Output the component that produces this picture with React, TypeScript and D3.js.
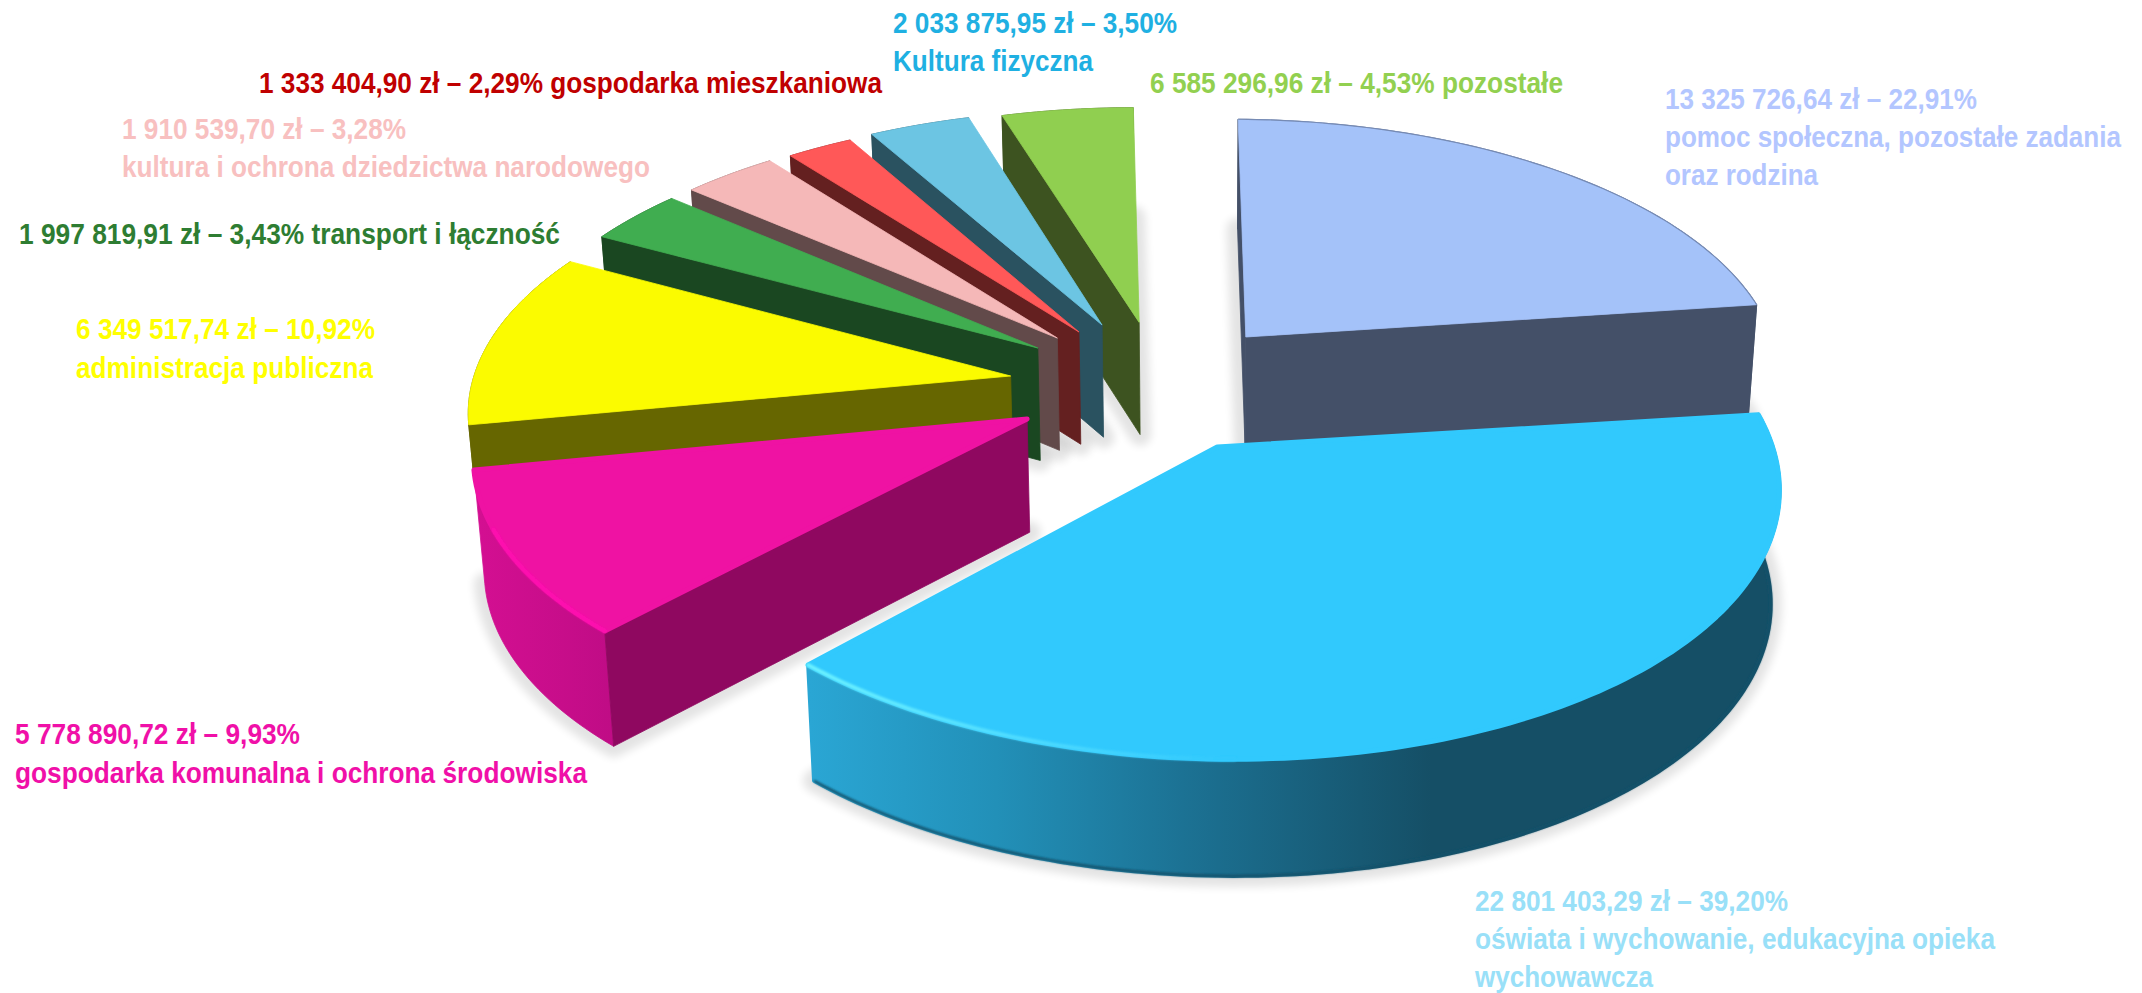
import React from "react";
import * as d3 from "d3";

// ---- data (clockwise from 12 o'clock) ----
const categories = [
  "pomoc społeczna", "oświata", "gospodarka komunalna", "administracja publiczna",
  "transport i łączność", "kultura i ochrona", "gospodarka mieszkaniowa", "kultura fizyczna", "pozostałe",
];
const percents = [22.91, 39.2, 9.93, 10.92, 3.43, 3.28, 2.29, 3.5, 4.53];
const topColors = ["#a4c2f9", "#31c9fd", "#ef12a3", "#fbfb00", "#40ad50", "#f5b8b8", "#ff5858", "#6cc5e3", "#90cf50"];
const wallColors = ["#445068", "#154f66", "#8f0860", "#666600", "#1a4721", "#624a4a", "#642020", "#2a5260", "#3d5320"];
const rimColors = ["#445068", "url(#rimCyan)", "url(#rimPink)", "#666600", "#1a4721", "#624a4a", "#642020", "#2a5260", "#3d5320"];
// explosion of every slice in pie-radius units
const explodeX = [0.277, 0.211, -0.133, -0.1665, -0.1174, -0.081, -0.04, 0.004, 0.075];
const explodeY = [0.25, -0.1768, -0.0724, 0.0934, 0.2051, 0.2457, 0.2704, 0.2992, 0.31];
const startNudgeDeg = [1.2, 0.8, 0, 0, 0, 0, 0, 0, 0];
const depthFactor = [1, 1, 1, 0.5, 1, 1, 1, 1, 1];
const showStartWall = [true, false, true, true, true, true, true, true, true];
const showEndWall = [true, false, false, false, false, false, false, false, false];
const paintOrder = [8, 7, 6, 5, 4, 0, 3, 2, 1];

type Label = { lines: string[]; color: string; x: number; base: number[]; right: number[] };
const labels: Label[] = [
  { lines: ["2 033 875,95 zł – 3,50%", "Kultura fizyczna"], color: "#1fb0e2", x: 893, base: [33, 71], right: [1177, 1093] },
  { lines: ["1 333 404,90 zł – 2,29% gospodarka mieszkaniowa"], color: "#c00000", x: 259, base: [93], right: [882] },
  { lines: ["1 910 539,70 zł – 3,28%", "kultura i ochrona dziedzictwa narodowego"], color: "#f8c0c0", x: 122, base: [139, 177], right: [406, 650] },
  { lines: ["1 997 819,91 zł – 3,43% transport i łączność"], color: "#2e7d32", x: 19, base: [244], right: [560] },
  { lines: ["6 349 517,74 zł – 10,92%", "administracja publiczna"], color: "#ffff00", x: 76, base: [339, 378], right: [375, 373] },
  { lines: ["6 585 296,96 zł – 4,53% pozostałe"], color: "#92d050", x: 1150, base: [93], right: [1563] },
  { lines: ["13 325 726,64 zł – 22,91%", "pomoc społeczna, pozostałe zadania", "oraz rodzina"], color: "#b3c6ff", x: 1665, base: [109, 147, 185], right: [1977, 2121, 1818] },
  { lines: ["5 778 890,72 zł – 9,93%", "gospodarka komunalna i ochrona środowiska"], color: "#f010a8", x: 15, base: [744, 783], right: [300, 587] },
  { lines: ["22 801 403,29 zł – 39,20%", "oświata i wychowanie, edukacyjna opieka", "wychowawcza"], color: "#99e0f8", x: 1475, base: [911, 949, 987], right: [1788, 1995, 1653] },
];
const textSqueeze = 0.867;

// ---- camera ----
const W = 2142, H = 993;
const persp = 0.126;
const xScale = d3.scaleLinear().domain([0, 1]).range([1100, 1643]);
const yScale = d3.scaleLinear().domain([0, 1]).range([400, 140]);
const depth = 113;
const dropCx = 1200;
type P = [number, number];
const wOf = (Y: number) => 1 + persp * Y;
const project = (X: number, Y: number): P => [xScale(X / wOf(Y)), yScale(Y / wOf(Y))];
const lineGen = d3.line<P>();

const rot = (-0.2 * Math.PI) / 180;
const pie = d3.pie<number>().value((d) => d).sort(null)
  .startAngle(rot).endAngle(2 * Math.PI + rot);
const arcs = pie(percents);

const arcPts = (X0: number, Y0: number, a: number, b: number) => {
  const n = Math.max(12, Math.ceil((b - a) / 0.02));
  return d3.range(n + 1).map((i) => {
    const t = a + ((b - a) * i) / n;
    return [X0 + Math.sin(t), Y0 + Math.cos(t)] as P;
  });
};
const top3 = (p: P) => project(p[0], p[1]);
const low3 = (p: P, f = 1): P => {
  const [x, y] = project(p[0], p[1]);
  return [x + (dropCx - x) * 0.015 * f, y + (f * depth) / Math.pow(wOf(p[1]), 0.2)];
};

function Slice({ i }: { i: number }) {
  const a = arcs[i].startAngle + (startNudgeDeg[i] * Math.PI) / 180;
  const b = arcs[i].endAngle;
  const X0 = explodeX[i], Y0 = explodeY[i];
  const f = depthFactor[i];
  const world = arcPts(X0, Y0, a, b);
  const apex: P = [X0, Y0];
  const topArc = world.map(top3);
  const lowArc = world.map((p) => low3(p, f));
  const topFace = [top3(apex), ...topArc];
  const shadowFace = [low3(apex), ...world.map((p) => low3(p))];
  const rim = [...topArc, ...lowArc.slice().reverse()];
  const wallA = [top3(apex), top3(world[0]), low3(world[0], f), low3(apex, f)];
  const wallB = [top3(apex), top3(world[world.length - 1]), low3(world[world.length - 1], f), low3(apex, f)];
  const hi = i === 1 ? arcPts(X0, Y0, Math.PI, b) : i === 2 ? arcPts(X0, Y0, a, a + (b - a) * 0.65) : null;
  return (
    <g data-name={categories[i]}>
      {i !== 3 && (
        <path d={lineGen(shadowFace) + "Z"} fill="#000" stroke="#000" strokeWidth={22} strokeLinejoin="round"
          opacity={0.105} filter="url(#soft)" />
      )}
      <path d={lineGen(rim) + "Z"} fill={rimColors[i]} stroke={rimColors[i]} strokeWidth={i === 1 ? 4 : 0.8} strokeLinejoin="round" />
      {i === 1 && <path d={lineGen(lowArc) ?? ""} fill="none" stroke="#14516a" strokeWidth={2.5} filter="url(#tiny)" />}
      {showEndWall[i] && <path d={lineGen(wallB) + "Z"} fill={wallColors[i]} stroke={wallColors[i]} strokeWidth={0.8} />}
      {showStartWall[i] && <path d={lineGen(wallA) + "Z"} fill={wallColors[i]} stroke={wallColors[i]} strokeWidth={0.8} />}
      <path d={lineGen(topFace) + "Z"} fill={topColors[i]} stroke={topColors[i]} strokeWidth={i === 1 || i === 2 ? 5 : 0.8} strokeLinejoin="round" />
      {i === 0 && <path d={lineGen(topArc) ?? ""} fill="none" stroke="#6d7fa6" strokeWidth={1.2} opacity={0.8} />}
      {hi && (
        <path d={lineGen(hi.map(top3)) ?? ""} fill="none" strokeWidth={4}
          stroke={i === 1 ? "url(#hiCyan)" : "#ff10b0"} filter="url(#tiny)" strokeLinecap="round" />
      )}
    </g>
  );
}

export default function App() {
  return (
    <svg width={W} height={H} viewBox={`0 0 ${W} ${H}`}
      style={{ position: "absolute", left: 0, top: 0, display: "block", background: "#fff" }}>
      <defs>
        <filter id="soft" x="-20%" y="-20%" width="140%" height="140%"><feGaussianBlur stdDeviation={4} /></filter>
        <filter id="tiny" x="-10%" y="-10%" width="120%" height="120%"><feGaussianBlur stdDeviation={1} /></filter>
        <linearGradient id="rimCyan" gradientUnits="userSpaceOnUse" x1={810} x2={1431} y1={0} y2={0}>
          <stop offset="0" stopColor="#2aa6d4" />
          <stop offset="0.3" stopColor="#2290b8" />
          <stop offset="0.6" stopColor="#1c7294" />
          <stop offset="1" stopColor="#154f66" />
        </linearGradient>
        <linearGradient id="rimPink" gradientUnits="userSpaceOnUse" x1={474} x2={617} y1={0} y2={0}>
          <stop offset="0" stopColor="#d40f92" />
          <stop offset="1" stopColor="#bf0c85" />
        </linearGradient>
        <linearGradient id="hiCyan" gradientUnits="userSpaceOnUse" x1={810} x2={1230} y1={0} y2={0}>
          <stop offset="0" stopColor="#6cf2ff" />
          <stop offset="0.5" stopColor="#4fdcff" />
          <stop offset="1" stopColor="#31c9fd" />
        </linearGradient>
      </defs>
      {paintOrder.map((i) => <Slice key={i} i={i} />)}
      {labels.map((l, k) => (
        <g key={k} fill={l.color} fontFamily="'Liberation Sans', Arial, sans-serif" fontWeight={700} fontSize={30}>
          {l.lines.map((t, j) => (
            <text key={j} transform={`translate(${l.x},${l.base[j]}) scale(${textSqueeze},1)`}
              textLength={(l.right[j] - l.x) / textSqueeze} lengthAdjust="spacingAndGlyphs">{t}</text>
          ))}
        </g>
      ))}
    </svg>
  );
}
